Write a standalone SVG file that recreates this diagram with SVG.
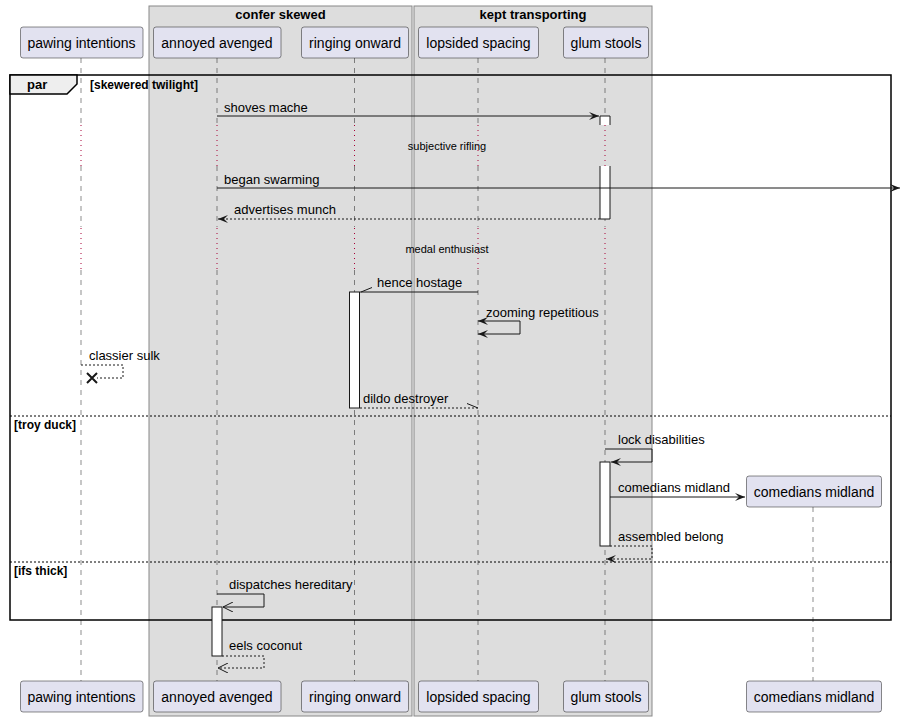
<svg xmlns="http://www.w3.org/2000/svg" width="901" height="721" viewBox="0 0 901 721">
<style>
text{font-family:"Liberation Sans",Arial,sans-serif;fill:#000}
.pn{font-size:14px;text-anchor:middle}
.ml{font-size:13px}
.dl{font-size:11px;text-anchor:middle}
.bt{font-size:13px;font-weight:bold;text-anchor:middle}
.gl{font-size:12px;font-weight:bold}
.pbox{fill:#E2E2F0;stroke:#181818;stroke-width:0.5}
.box{fill:#DDDDDD;stroke:#888888;stroke-width:1}
.life{stroke:#181818;stroke-width:0.5;stroke-dasharray:5 5;fill:none}
.delay{stroke:#A80036;stroke-width:1;stroke-dasharray:1 4;fill:none}
.act{fill:#FFFFFF;stroke:#181818;stroke-width:1}
.msg{stroke:#181818;stroke-width:1;fill:none}
.dash{stroke-dasharray:2 2}
.sep{stroke:#000;stroke-width:1;stroke-dasharray:2 2;fill:none}
</style>
<defs>
<marker id="fa" viewBox="0 0 10 8" refX="10" refY="4" markerWidth="10" markerHeight="8" markerUnits="userSpaceOnUse" orient="auto-start-reverse">
<path d="M0,0 L10,4 L0,8 L4,4 Z" fill="#181818"/>
</marker>
<marker id="oa" viewBox="0 0 11 10" refX="10" refY="5" markerWidth="11" markerHeight="10" markerUnits="userSpaceOnUse" orient="auto-start-reverse">
<path d="M0,0 L10,5 L0,10" fill="none" stroke="#181818" stroke-width="1"/>
</marker>
</defs>
<rect width="901" height="721" fill="#FFFFFF"/>
<g id="box-confer">
<rect class="box" x="149" y="6" width="263" height="710"/>
<text class="bt" x="280.5" y="19">confer skewed</text>
</g>
<g id="box-kept">
<rect class="box" x="414" y="6" width="238" height="710"/>
<text class="bt" x="533" y="19">kept transporting</text>
</g>
<g id="lifelines">
<path class="life" d="M81,58 V124 M81,166 V227 M81,270 V681"/>
<path class="life" d="M217,58 V124 M217,166 V227 M217,270 V681"/>
<path class="life" d="M354.5,58 V124 M354.5,166 V227 M354.5,270 V681"/>
<path class="life" d="M478,58 V124 M478,166 V227 M478,270 V681"/>
<path class="life" d="M605,58 V124 M605,166 V227 M605,270 V681"/>
<path class="life" d="M813,507 V681"/>
<path class="delay" d="M81,125 V166 M217,125 V166 M354.5,125 V166 M478,125 V166 M605,125 V166"/>
<path class="delay" d="M81,228 V270 M217,228 V270 M354.5,228 V270 M478,228 V270 M605,228 V270"/>
<text class="dl" x="447" y="150">subjective rifling</text>
<text class="dl" x="447" y="253">medal enthusiast</text>
</g>
<g id="frame-par">
<rect x="10" y="75" width="881" height="545" fill="none" stroke="#000" stroke-width="1.5"/>
<path d="M10,75 H77 V84 L67,94 H10 Z" fill="#EEEEEE" stroke="#000" stroke-width="1.5"/>
<text class="ml" x="27" y="89" font-weight="bold">par</text>
<text class="gl" x="90" y="89">[skewered twilight]</text>
<path class="sep" d="M10,416 H891"/>
<text class="gl" x="14" y="429">[troy duck]</text>
<path class="sep" d="M10,562 H891"/>
<text class="gl" x="14" y="575">[ifs thick]</text>
</g>
<g id="activations">
<path class="act" d="M600,125 V116 H610 V125"/>
<path class="act" d="M600,166 V219 H610 V166"/>
<rect class="act" x="349.5" y="292" width="10" height="116"/>
<rect class="act" x="600" y="462" width="10" height="84"/>
<rect class="act" x="212" y="607" width="10" height="49"/>
</g>
<g id="connectors">
<path class="msg" d="M217,116 H599" marker-end="url(#fa)"/>
<text class="ml" x="224" y="112">shoves mache</text>
<path class="msg" d="M217,188 H900" marker-end="url(#fa)"/>
<text class="ml" x="224" y="184">began swarming</text>
<path class="msg dash" d="M600,219 H218" marker-end="url(#fa)"/>
<text class="ml" x="234" y="214">advertises munch</text>
<path class="msg" d="M478,292 H360 M361,292 L372,287.5"/>
<text class="ml" x="377" y="287">hence hostage</text>
<path class="msg" d="M478,321 H520 V334 H478" marker-start="url(#fa)" marker-end="url(#fa)"/>
<text class="ml" x="486" y="317">zooming repetitious</text>
<path class="msg dash" d="M81,365 H123 V378 H97"/>
<path d="M87,373 L97,383 M97,373 L87,383" stroke="#181818" stroke-width="2"/>
<text class="ml" x="89" y="360">classier sulk</text>
<path class="msg dash" d="M360,408 H478"/>
<path class="msg" d="M478,408 L467,403.5"/>
<text class="ml" x="363" y="403">dildo destroyer</text>
<path class="msg" d="M605,449 H652 V462 H611" marker-end="url(#fa)"/>
<text class="ml" x="618" y="444">lock disabilities</text>
<path class="msg" d="M610,497 H745" marker-end="url(#fa)"/>
<text class="ml" x="618" y="492">comedians midland</text>
<path class="msg dash" d="M610,546 H652 V559 H606" marker-end="url(#fa)"/>
<text class="ml" x="618" y="541">assembled belong</text>
<path class="msg" d="M217,594 H264 V607 H223" marker-end="url(#oa)"/>
<text class="ml" x="229" y="589">dispatches hereditary</text>
<path class="msg dash" d="M222,656 H264 V668 H218" marker-end="url(#oa)"/>
<text class="ml" x="229" y="650">eels coconut</text>
</g>
<g id="p-pawing">
<rect class="pbox" x="20.5" y="27" width="122.5" height="31" rx="2.5"/>
<text class="pn" x="81.5" y="48">pawing intentions</text>
<rect class="pbox" x="20.5" y="681" width="122.5" height="31" rx="2.5"/>
<text class="pn" x="81.5" y="702">pawing intentions</text>
</g>
<g id="p-annoyed">
<rect class="pbox" x="153.5" y="27" width="127.5" height="31" rx="2.5"/>
<text class="pn" x="217" y="48">annoyed avenged</text>
<rect class="pbox" x="153.5" y="681" width="127.5" height="31" rx="2.5"/>
<text class="pn" x="217" y="702">annoyed avenged</text>
</g>
<g id="p-ringing">
<rect class="pbox" x="301.5" y="27" width="107" height="31" rx="2.5"/>
<text class="pn" x="355" y="48">ringing onward</text>
<rect class="pbox" x="301.5" y="681" width="107" height="31" rx="2.5"/>
<text class="pn" x="355" y="702">ringing onward</text>
</g>
<g id="p-lopsided">
<rect class="pbox" x="418.5" y="27" width="120" height="31" rx="2.5"/>
<text class="pn" x="478.5" y="48">lopsided spacing</text>
<rect class="pbox" x="418.5" y="681" width="120" height="31" rx="2.5"/>
<text class="pn" x="478.5" y="702">lopsided spacing</text>
</g>
<g id="p-glum">
<rect class="pbox" x="563.5" y="27" width="85" height="31" rx="2.5"/>
<text class="pn" x="606" y="48">glum stools</text>
<rect class="pbox" x="563.5" y="681" width="85" height="31" rx="2.5"/>
<text class="pn" x="606" y="702">glum stools</text>
</g>
<g id="p-comedians">
<rect class="pbox" x="746.5" y="476" width="135" height="31" rx="2.5"/>
<text class="pn" x="814" y="497">comedians midland</text>
<rect class="pbox" x="746.5" y="681" width="135" height="31" rx="2.5"/>
<text class="pn" x="814" y="702">comedians midland</text>
</g>
</svg>
